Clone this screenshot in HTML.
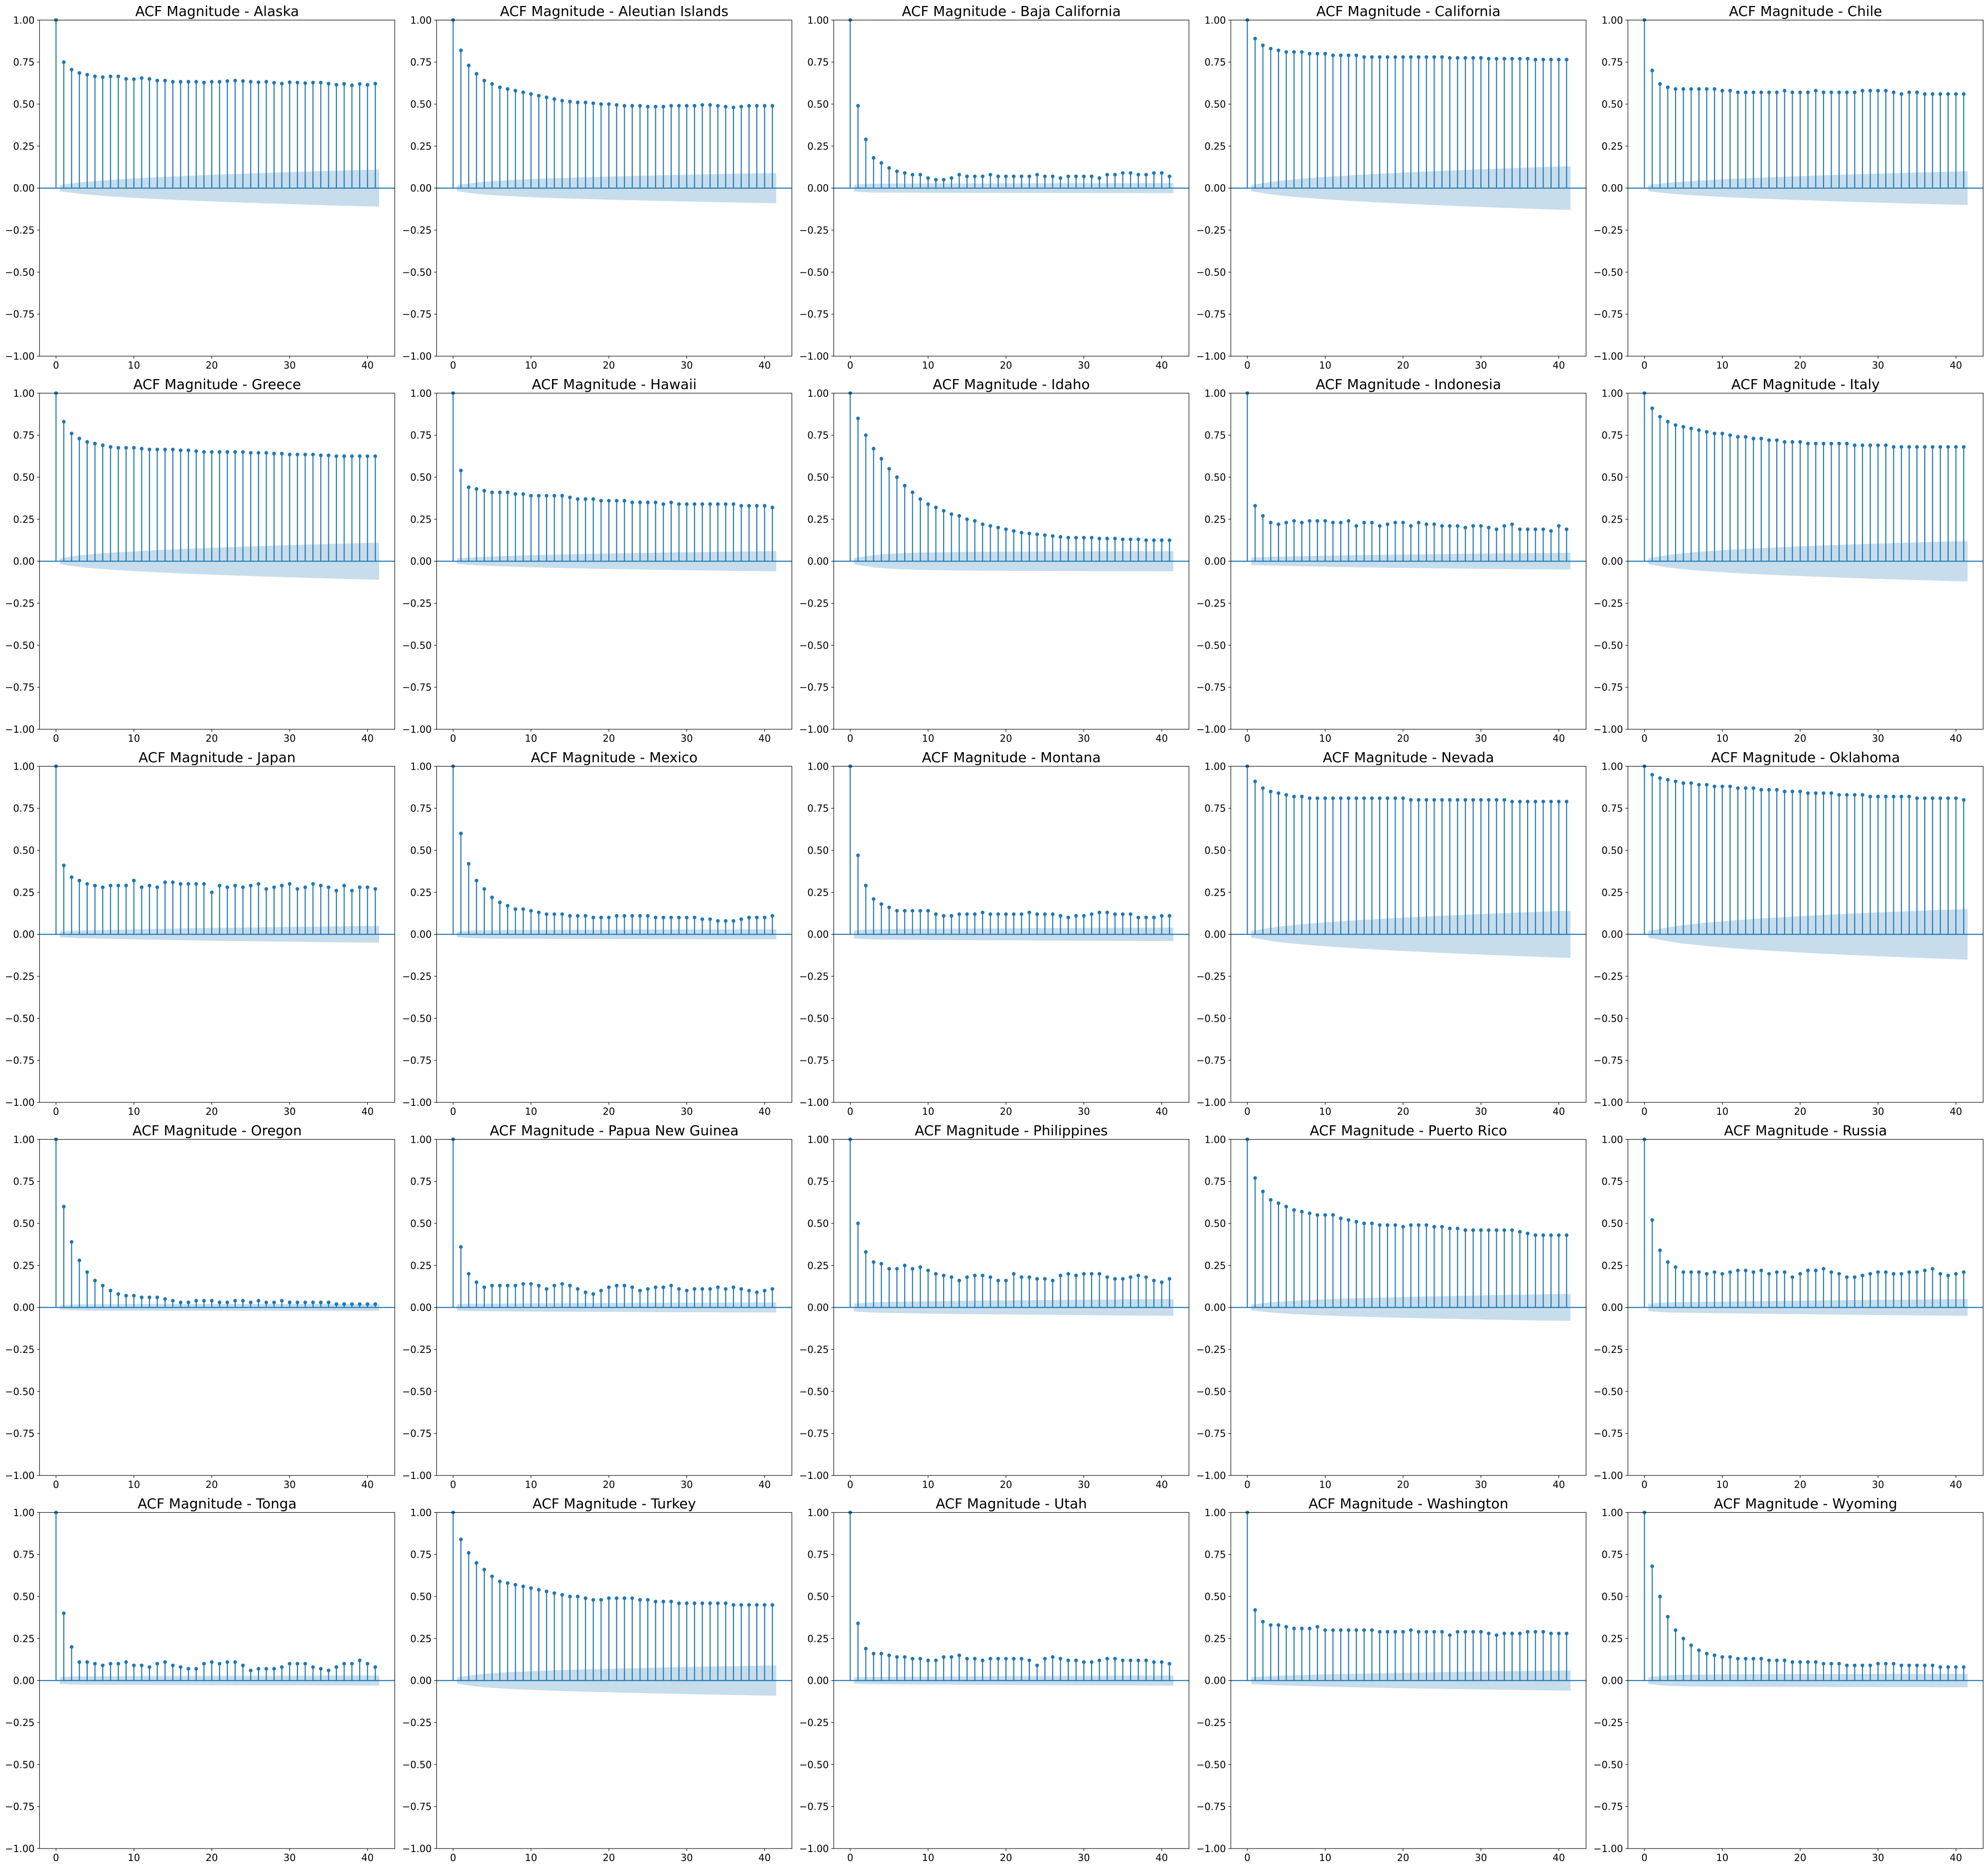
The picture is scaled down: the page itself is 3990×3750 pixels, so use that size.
<!DOCTYPE html>
<html><head><meta charset="utf-8">
<style>
html,body{margin:0;padding:0;background:#fff;}
svg{display:block;}
text{font-family:"DejaVu Sans","Liberation Sans",sans-serif;fill:#000;}
</style></head>
<body>
<svg id="fig" width="3990" height="3750" viewBox="0 0 3990 3750" xmlns="http://www.w3.org/2000/svg"></svg>
<script>
const regions = ["Alaska","Aleutian Islands","Baja California","California","Chile","Greece","Hawaii","Idaho","Indonesia","Italy","Japan","Mexico","Montana","Nevada","Oklahoma","Oregon","Papua New Guinea","Philippines","Puerto Rico","Russia","Tonga","Turkey","Utah","Washington","Wyoming"];
const acfAlaska = [.75,.705,.685,.675,.665,.66,.665,.665,.65,.648,.655,.65,.64,.64,.633,.633,.633,.633,.628,.633,.633,.637,.64,.637,.633,.63,.633,.627,.622,.63,.628,.625,.628,.628,.622,.615,.62,.612,.62,.615,.622];
const acfAleutian = [.82,.73,.68,.64,.62,.60,.59,.58,.57,.56,.55,.54,.53,.52,.515,.51,.51,.505,.50,.50,.495,.49,.49,.49,.485,.485,.485,.49,.49,.49,.49,.495,.495,.49,.485,.48,.485,.49,.49,.49,.49];
const acfBaja = [.49,.29,.18,.15,.12,.10,.09,.08,.08,.06,.05,.05,.06,.08,.07,.07,.07,.08,.07,.07,.07,.07,.07,.08,.07,.07,.06,.07,.07,.07,.07,.06,.08,.08,.09,.09,.08,.08,.09,.09,.07];
const acfCalifornia = [.89,.85,.83,.82,.81,.81,.81,.80,.80,.80,.79,.79,.79,.79,.78,.78,.78,.78,.78,.78,.78,.78,.78,.78,.78,.775,.775,.775,.775,.775,.77,.77,.77,.77,.77,.77,.765,.765,.765,.765,.765];
const acfChile = [.70,.62,.60,.59,.59,.59,.59,.59,.59,.58,.58,.57,.57,.57,.57,.57,.57,.58,.57,.57,.57,.58,.57,.57,.57,.57,.57,.58,.58,.58,.58,.57,.56,.57,.57,.56,.56,.56,.56,.56,.56];
const acfGreece = [.83,.76,.73,.71,.70,.69,.68,.675,.675,.675,.67,.665,.665,.665,.665,.66,.66,.655,.65,.65,.65,.65,.65,.65,.645,.645,.645,.64,.64,.635,.635,.635,.635,.63,.63,.625,.625,.625,.625,.625,.625];
const acfHawaii = [.54,.44,.43,.42,.41,.41,.41,.40,.40,.39,.39,.39,.39,.39,.38,.37,.37,.37,.36,.36,.36,.36,.35,.35,.35,.35,.34,.35,.34,.34,.34,.34,.34,.34,.34,.34,.33,.33,.33,.33,.32];
const acfIdaho = [.85,.75,.67,.61,.55,.50,.45,.41,.37,.34,.32,.30,.28,.27,.25,.24,.22,.21,.20,.19,.18,.17,.165,.16,.155,.15,.145,.14,.14,.14,.14,.135,.135,.135,.13,.13,.13,.125,.125,.125,.125];
const acfIndonesia = [.33,.27,.23,.22,.23,.24,.23,.24,.24,.24,.23,.23,.24,.21,.23,.23,.21,.22,.23,.23,.21,.23,.22,.22,.21,.21,.21,.20,.21,.21,.20,.19,.21,.22,.19,.19,.19,.19,.18,.21,.19];
const acfItaly = [.91,.86,.83,.81,.80,.79,.78,.77,.76,.76,.75,.74,.74,.73,.73,.72,.72,.71,.71,.71,.70,.70,.70,.70,.70,.70,.69,.69,.69,.69,.69,.68,.68,.68,.68,.68,.68,.68,.68,.68,.68];
const acfJapan = [.41,.34,.32,.30,.29,.28,.29,.29,.29,.32,.28,.29,.28,.31,.31,.30,.30,.30,.30,.25,.29,.28,.29,.28,.29,.30,.27,.28,.29,.30,.27,.28,.30,.29,.28,.26,.29,.26,.28,.28,.27];
const acfMexico = [.60,.42,.32,.27,.22,.19,.17,.15,.15,.14,.13,.12,.12,.12,.11,.11,.11,.10,.10,.10,.11,.11,.11,.11,.11,.10,.10,.10,.10,.10,.10,.09,.09,.08,.08,.08,.09,.10,.10,.10,.11];
const acfMontana = [.47,.29,.21,.18,.16,.14,.14,.14,.14,.14,.12,.11,.11,.12,.12,.12,.13,.12,.12,.12,.12,.12,.13,.12,.12,.12,.11,.10,.11,.11,.12,.13,.13,.12,.12,.12,.10,.10,.10,.11,.11];
const acfNevada = [.91,.87,.85,.84,.83,.82,.82,.81,.81,.81,.81,.81,.81,.81,.81,.81,.81,.81,.81,.81,.80,.80,.80,.80,.80,.80,.80,.80,.80,.80,.80,.80,.80,.79,.79,.79,.79,.79,.79,.79,.79];
const acfOklahoma = [.95,.93,.92,.91,.90,.90,.89,.89,.88,.88,.88,.87,.87,.87,.86,.86,.86,.85,.85,.85,.84,.84,.84,.84,.83,.83,.83,.83,.82,.82,.82,.82,.82,.82,.81,.81,.81,.81,.81,.81,.80];
const acfOregon = [.60,.39,.28,.21,.16,.13,.10,.08,.07,.07,.06,.06,.06,.05,.04,.03,.03,.04,.04,.04,.03,.03,.04,.04,.03,.04,.03,.03,.04,.03,.03,.03,.03,.03,.03,.02,.02,.02,.02,.02,.02];
const acfPNG = [.36,.20,.15,.12,.13,.13,.13,.13,.14,.14,.13,.11,.13,.14,.13,.11,.09,.08,.10,.12,.13,.13,.12,.10,.11,.12,.12,.13,.11,.10,.11,.11,.11,.12,.11,.12,.11,.10,.09,.10,.11];
const acfPhilippines = [.50,.33,.27,.26,.23,.23,.25,.23,.24,.22,.20,.19,.18,.16,.18,.19,.19,.18,.16,.16,.20,.18,.18,.17,.17,.16,.19,.20,.19,.20,.20,.20,.18,.17,.17,.18,.19,.18,.16,.15,.17];
const acfPuertoRico = [.77,.69,.64,.62,.60,.58,.57,.56,.55,.55,.55,.53,.52,.51,.50,.50,.49,.49,.49,.48,.49,.49,.49,.48,.48,.47,.47,.46,.46,.46,.46,.46,.46,.46,.45,.44,.43,.43,.43,.43,.43];
const acfRussia = [.52,.34,.27,.24,.21,.21,.21,.20,.21,.20,.21,.22,.22,.21,.22,.20,.21,.21,.18,.20,.22,.22,.23,.21,.20,.18,.18,.19,.20,.21,.21,.20,.20,.21,.21,.22,.23,.20,.19,.20,.21];
const acfTonga = [.40,.20,.11,.11,.10,.09,.10,.10,.11,.09,.09,.08,.10,.11,.09,.08,.07,.07,.10,.11,.10,.11,.11,.09,.06,.07,.07,.07,.08,.10,.10,.10,.08,.07,.06,.08,.10,.10,.12,.10,.08];
const acfTurkey = [.84,.76,.70,.66,.62,.59,.58,.57,.56,.55,.54,.53,.52,.51,.50,.50,.49,.48,.48,.49,.49,.49,.49,.48,.48,.47,.47,.47,.46,.46,.46,.46,.46,.46,.46,.45,.45,.45,.45,.45,.45];
const acfUtah = [.34,.19,.16,.16,.15,.14,.14,.13,.13,.12,.12,.14,.14,.15,.13,.13,.12,.13,.13,.13,.13,.13,.12,.09,.13,.14,.13,.12,.12,.11,.11,.12,.13,.13,.12,.12,.12,.12,.11,.11,.10];
const acfWashington = [.42,.35,.33,.33,.32,.31,.31,.31,.32,.30,.30,.30,.30,.30,.30,.30,.29,.29,.29,.29,.30,.29,.29,.29,.29,.27,.29,.29,.29,.29,.28,.27,.28,.28,.28,.29,.29,.29,.28,.28,.28];
const acfWyoming = [.68,.50,.38,.30,.25,.21,.18,.16,.15,.14,.14,.13,.13,.13,.13,.12,.12,.12,.11,.11,.11,.11,.10,.10,.10,.09,.09,.09,.09,.10,.10,.10,.09,.09,.09,.09,.09,.08,.08,.08,.08];
const bandEnd = [0.11,0.09,0.03,0.13,0.10,0.11,0.06,0.06,0.05,0.12,0.05,0.03,0.04,0.14,0.15,0.02,0.03,0.05,0.08,0.05,0.03,0.09,0.03,0.06,0.04];
const yTicks = [1.0,0.75,0.5,0.25,0,-0.25,-0.5,-0.75,-1.0];
const yTickLabels = ["1.00","0.75","0.50","0.25","0.00","\u22120.25","\u22120.50","\u22120.75","\u22121.00"];
const xTicks = [0,10,20,30,40];
const xTickLabels = ["0","10","20","30","40"];

const series = [acfAlaska,acfAleutian,acfBaja,acfCalifornia,acfChile,acfGreece,acfHawaii,acfIdaho,acfIndonesia,acfItaly,acfJapan,acfMexico,acfMontana,acfNevada,acfOklahoma,acfOregon,acfPNG,acfPhilippines,acfPuertoRico,acfRussia,acfTonga,acfTurkey,acfUtah,acfWashington,acfWyoming];

const NS = "http://www.w3.org/2000/svg";
const svg = document.getElementById('fig');
const C = "#1f77b4";
const AX_W = 713, AX_H = 674.7, COL0 = 79.3, ROW0 = 40.3, COLP = 797, ROWP = 749;
const XMIN = -2.12, XMAX = 43.5;

function mk(tag, attrs, parent){
  const e = document.createElementNS(NS, tag);
  for (const k in attrs) e.setAttribute(k, attrs[k]);
  parent.appendChild(e);
  return e;
}

series.forEach((vals, idx) => {
  const r = Math.floor(idx/5), c = idx%5;
  const L = COL0 + c*COLP, T = ROW0 + r*ROWP;
  const sx = x => L + (x - XMIN)/(XMAX - XMIN)*AX_W;
  const sy = y => T + (1 - y)/2*AX_H;
  const g = mk('g', {}, svg);
  
  

  const full = [1].concat(vals);
  // confidence band (Bartlett shape scaled to end value)
  const cum = [];
  let s = 0;
  for (let k = 1; k < full.length; k++){ cum.push(Math.sqrt(1 + 2*s)); s += full[k]*full[k]; }
  const endShape = cum[cum.length-1];
  const band = cum.map(v => v/endShape*bandEnd[idx]);
  let up = [], dn = [];
  for (let k = 1; k < full.length; k++){
    let x = k;
    if (k === 1) x = 0.5;
    if (k === full.length-1) x = k + 0.5;
    up.push(sx(x).toFixed(1)+','+sy(band[k-1]).toFixed(1));
    dn.unshift(sx(x).toFixed(1)+','+sy(-band[k-1]).toFixed(1));
  }
  const poly = mk('polygon', {points: up.concat(dn).join(' '), fill: C, 'fill-opacity': 0.25, stroke: 'none'}, g);
  
  

  // zero line
  const zl = mk('line', {x1: L, x2: L+AX_W, y1: sy(0), y2: sy(0), stroke: C, 'stroke-width': 2.1}, g);
  
  

  full.forEach((v, k) => {
    const ln = mk('line', {x1: sx(k), x2: sx(k), y1: sy(0), y2: sy(v), stroke: C, 'stroke-width': 2.1}, g);
    
    
    const dot = mk('circle', {cx: sx(k), cy: sy(v), r: 3.7, fill: C}, g);
    
    
  });

  // spines
  const fr = mk('rect', {x: L, y: T, width: AX_W, height: AX_H, fill: 'none', stroke: '#000', 'stroke-width': 1.1}, g);
  
  

  yTicks.forEach((t, i) => {
    mk('line', {x1: L-4.9, x2: L, y1: sy(t), y2: sy(t), stroke: '#000', 'stroke-width': 1.1}, g);
    const tx = mk('text', {x: L-9.8, y: sy(t)+7, 'text-anchor': 'end', 'font-size': 19.4}, g);
    tx.textContent = yTickLabels[i];
    
    
  });
  xTicks.forEach((t, i) => {
    mk('line', {x1: sx(t), x2: sx(t), y1: T+AX_H, y2: T+AX_H+4.9, stroke: '#000', 'stroke-width': 1.1}, g);
    const tx = mk('text', {x: sx(t), y: T+AX_H+9.8+15, 'text-anchor': 'middle', 'font-size': 19.4}, g);
    tx.textContent = xTickLabels[i];
    
    
  });
  const ti = mk('text', {x: L+AX_W/2, y: T-8.5, 'text-anchor': 'middle', 'font-size': 27.8}, g);
  ti.textContent = 'ACF Magnitude - ' + regions[idx];
  
  
});
</script>
</body></html>
